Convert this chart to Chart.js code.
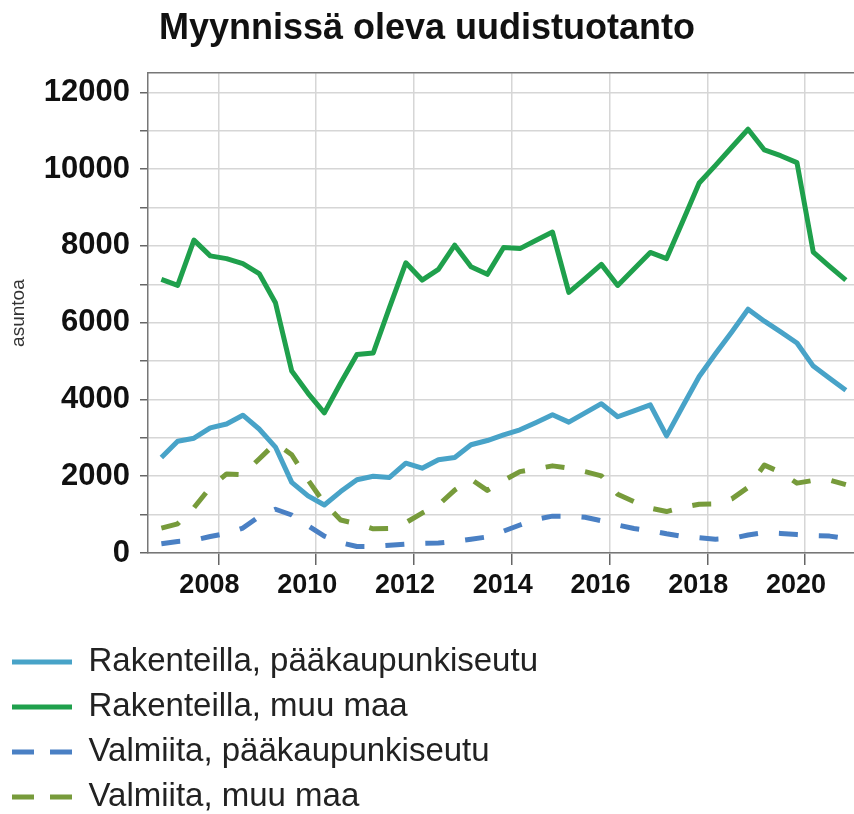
<!DOCTYPE html>
<html lang="fi">
<head>
<meta charset="utf-8">
<title>Myynnissä oleva uudistuotanto</title>
<script src="https://cdn.jsdelivr.net/npm/chart.js@4.4.1/dist/chart.umd.min.js"></script>
<style>
  html, body { margin: 0; padding: 0; background: #ffffff; }
  #wrap { position: relative; width: 854px; height: 814px; }
</style>
</head>
<body>
<div id="wrap"><canvas id="chart"></canvas></div>
<script>
// ---- Data ----
const chartTitle = 'Myynnissä oleva uudistuotanto';
const yAxisTitle = 'asuntoa';

// survey periods (year/tertial)
const periods = [
  '2006/3',
  '2007/1','2007/2','2007/3',
  '2008/1','2008/2','2008/3',
  '2009/1','2009/2','2009/3',
  '2010/1','2010/2','2010/3',
  '2011/1','2011/2','2011/3',
  '2012/1','2012/2','2012/3',
  '2013/1','2013/2','2013/3',
  '2014/1','2014/2','2014/3',
  '2015/1','2015/2','2015/3',
  '2016/1','2016/2','2016/3',
  '2017/1','2017/2','2017/3',
  '2018/1','2018/2','2018/3',
  '2019/1','2019/2','2019/3',
  '2020/1','2020/2','2020/3'
];

const seriesNames = [
  'Rakenteilla, pääkaupunkiseutu',
  'Rakenteilla, muu maa',
  'Valmiita, pääkaupunkiseutu',
  'Valmiita, muu maa'
];

const rakenteillaPks = [2490, 2910, 2990, 3260, 3360, 3590, 3230, 2760, 1840, 1490, 1250, 1600, 1910, 2000, 1970, 2340, 2210, 2430, 2490, 2820, 2930, 3080, 3210, 3400, 3600, 3410, 3650, 3890, 3550, 3700, 3860, 3050, 3830, 4600, 5190, 5760, 6350, 6040, 5760, 5470, 4870, 4550, 4240];
const rakenteillaMuu = [7130, 6970, 8150, 7740, 7670, 7540, 7280, 6520, 4740, 4160, 3650, 4430, 5170, 5210, 6400, 7560, 7110, 7390, 8020, 7460, 7260, 7960, 7930, 8150, 8360, 6790, 7150, 7520, 6970, 7400, 7830, 7670, 8650, 9640, 10100, 10570, 11040, 10500, 10350, 10170, 7840, 7470, 7110];
const valmiitaPks = [240, 300, 330, 430, 510, 650, 950, 1140, 990, 710, 440, 270, 170, 170, 200, 230, 250, 260, 300, 360, 420, 570, 730, 880, 960, 960, 930, 840, 730, 640, 580, 500, 430, 400, 360, 380, 470, 530, 510, 480, 450, 440, 380];
const valmiitaMuu = [650, 760, 1180, 1710, 2060, 2040, 2450, 2860, 2560, 1900, 1300, 860, 760, 630, 640, 790, 1040, 1250, 1640, 1920, 1630, 1890, 2120, 2190, 2270, 2210, 2120, 2010, 1530, 1340, 1170, 1080, 1190, 1270, 1280, 1410, 1710, 2290, 2100, 1820, 1890, 1900, 1780];

const xTickYears = [2008, 2010, 2012, 2014, 2016, 2018, 2020];
const yTickValues = [0, 1000, 2000, 3000, 4000, 5000, 6000, 7000, 8000, 9000, 10000, 11000, 12000];
const yTickLabels = ['0', '', '2000', '', '4000', '', '6000', '', '8000', '', '10000', '', '12000'];

// ---- Build chart ----
const periodPos = periods.map(p => {
  const [yr, t] = p.split('/').map(Number);
  return yr + (t - 0.5) / 3;
});
const toPoints = arr => arr.map((v, i) => ({ x: periodPos[i], y: v }));

const colors = ['#48a3c8', '#1fa04c', '#4a80c4', '#779b3b'];
const values = [rakenteillaPks, rakenteillaMuu, valmiitaPks, valmiitaMuu];
const dashes = [[], [], [19, 21], [19, 21]];
const legendDashes = [[], [], [22, 16], [22, 16]];

Chart.defaults.font.family = "'Liberation Sans', Arial, Helvetica, sans-serif";
Chart.defaults.color = '#111111';

const datasets = values.map((arr, k) => ({
  label: seriesNames[k],
  data: toPoints(arr),
  borderColor: colors[k],
  backgroundColor: colors[k],
  borderWidth: 5,
  borderDash: dashes[k],
  borderCapStyle: 'butt',
  borderJoinStyle: 'round',
  pointRadius: 0,
  pointHoverRadius: 0,
  tension: 0,
  fill: false,
  xAxisID: 'x',
  yAxisID: 'y'
}));

new Chart(document.getElementById('chart'), {
  type: 'line',
  data: { datasets },
  options: {
    responsive: true,
    maintainAspectRatio: false,
    animation: false,
    layout: { padding: { top: 0, left: 0, right: 0, bottom: -9.5 } },
    plugins: {
      title: {
        display: true,
        text: chartTitle,
        color: '#111111',
        font: { size: 36, weight: 'bold' },
        padding: { top: 7, bottom: 23 }
      },
      legend: {
        display: true,
        position: 'bottom',
        align: 'start',
        labels: {
          usePointStyle: true,
          pointStyle: 'line',
          pointStyleWidth: 60,
          color: '#222222',
          font: { size: 33 },
          padding: 12,
          generateLabels: chart =>
            Chart.defaults.plugins.legend.labels.generateLabels(chart).map((item, i) => ({
              ...item,
              pointStyle: 'line',
              strokeStyle: colors[i],
              fillStyle: colors[i],
              lineWidth: 5,
              lineDash: legendDashes[i],
              lineCap: 'butt'
            }))
        }
      },
      tooltip: { enabled: false }
    },
    scales: {
      x: {
        type: 'linear',
        position: 'bottom',
        min: 2006.56,
        max: 2021.0,
        grid: { color: '#d6d6d6', lineWidth: 1.5, tickColor: '#666666', tickLength: 12 },
        border: { color: '#777777', width: 1.5 },
        ticks: {
          color: '#111111',
          font: { size: 27, weight: 'bold' },
          padding: 4,
          labelOffset: -9,
          maxRotation: 0,
          autoSkip: false,
          callback: v => String(v)
        },
        afterBuildTicks: s => { s.ticks = xTickYears.map(v => ({ value: v })); },
        afterFit: s => { s.height = 80.5; }
      },
      x2: {
        type: 'linear',
        position: 'top',
        display: true,
        grid: { display: false, drawTicks: false },
        ticks: { display: false },
        border: { display: true, color: '#777777', width: 1.5 }
      },
      y: {
        type: 'linear',
        min: 0,
        max: 12500,
        grid: { color: '#d6d6d6', lineWidth: 1.5, tickColor: '#666666', tickLength: 8 },
        border: { color: '#777777', width: 1.5 },
        ticks: {
          color: '#111111',
          font: { size: 31, weight: 'bold' },
          padding: 10,
          autoSkip: false,
          callback: v => { const i = yTickValues.indexOf(v); return i >= 0 ? yTickLabels[i] : ''; }
        },
        afterBuildTicks: s => { s.ticks = yTickValues.map(v => ({ value: v })); },
        afterFit: s => { s.width = 148; },
        title: {
          display: true,
          text: yAxisTitle,
          color: '#333333',
          font: { size: 19 },
          padding: { top: 7, bottom: 0 }
        }
      }
    }
  }
});
</script>
</body>
</html>
